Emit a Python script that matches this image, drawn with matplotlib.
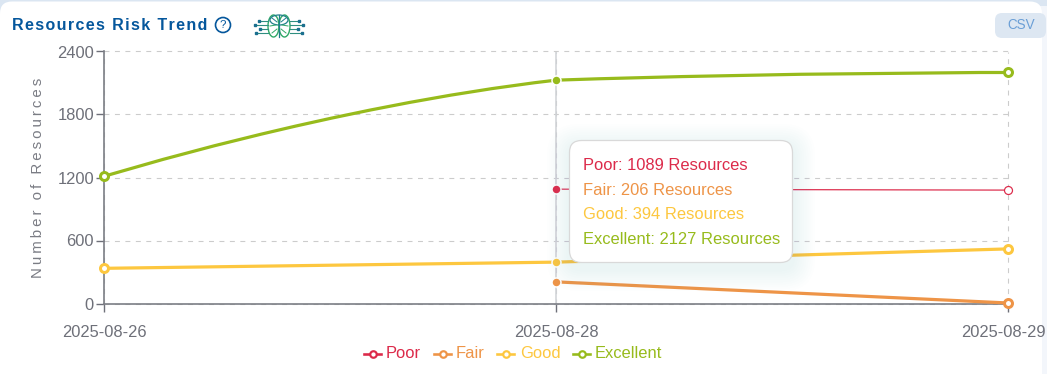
import numpy as np
import matplotlib
matplotlib.use('Agg')
import matplotlib.pyplot as plt
from matplotlib.patches import FancyBboxPatch, Circle, Ellipse, Rectangle, PathPatch
from matplotlib.path import Path
from matplotlib.transforms import ScaledTranslation

W, H = 1047, 374

dates = ['2025-08-26', '2025-08-28', '2025-08-29']
poor = [np.nan, 1089, 1080]
fair = [np.nan, 206, 5]
good = [335, 394, 520]
excellent = [1210, 2127, 2200]

names = ['Poor', 'Fair', 'Good', 'Excellent']
colors = ['#dc2a4a', '#ee9447', '#fdc73f', '#97bb1c']
widths = [1.2, 3.2, 3.2, 3.2]
yticks = [0, 600, 1200, 1800, 2400]
tooltip = ['Poor: 1089 Resources', 'Fair: 206 Resources', 'Good: 394 Resources', 'Excellent: 2127 Resources']

plt.rcParams['font.family'] = ['Liberation Sans', 'DejaVu Sans']
px = 0.72  # 1 css px in points at dpi 100
fs = 16.5 * px

fig = plt.figure(figsize=(W / 100, H / 100), dpi=100, facecolor='#dbe6f2')

# whole figure in pixels, for the card, tooltip and header
bg = fig.add_axes([0, 0, 1, 1], zorder=0)
bg.set_xlim(0, W)
bg.set_ylim(H, 0)
bg.axis('off')
bg.add_patch(Rectangle((1040, 6), 10, H, fc='#f3f6fb', ec='none'))
bg.add_patch(FancyBboxPatch((0, 1.5), 1042, H + 20, boxstyle='round,pad=0,rounding_size=12', fc='white', ec='none'))

ax = fig.add_axes([104 / W, 1 - 303.5 / H, 904 / W, 252 / H], zorder=1)
ax.patch.set_alpha(0)
ax.set_xlim(0, 2)
ax.set_ylim(0, 2400)
for s in ['top', 'right']:
    ax.spines[s].set_visible(False)
for s in ['left', 'bottom']:
    ax.spines[s].set_color('#7c7e85')
    ax.spines[s].set_linewidth(1.2)
ax.set_xticks(range(3))
ax.set_xticklabels(dates)
ax.set_yticks(yticks)
ax.tick_params(axis='both', color='#6e7079', labelcolor='#6e7079', labelsize=fs, length=8 * px, width=1.0, pad=1.5)
ax.tick_params(axis='x', pad=10)
ax.grid(True, color='#cccccc', linestyle=(0, (4.5, 5)), linewidth=px * 1.1)
for line in ax.get_xgridlines() + ax.get_ygridlines():
    line.set_clip_on(False)
ax.set_axisbelow(True)
ax.axvline(1, color='#cfd2d6', linewidth=1.1, zorder=1.5)
# last date label is pushed in a little so it stays inside
last = ax.get_xticklabels()[2]
last.set_transform(last.get_transform() + ScaledTranslation(-4.5 / 100, 0, fig.dpi_scale_trans))
ax.text(-0.073, 0.5, '\u2009'.join('Number of Resources'), rotation=90, transform=ax.transAxes,
        ha='center', va='center', color='#7a7c84', fontsize=15 * px)


def smooth_path(vals, smooth=0.5):
    # same idea as echarts smooth lines, ends have no handle
    ys = np.array(vals, dtype=float)
    lo, hi = ys.min(), ys.max()
    verts = [(0.0, ys[0])]
    codes = [Path.MOVETO]
    cp = (0.0, ys[0])
    for i in range(1, len(ys)):
        if i < len(ys) - 1:
            v = ys[i + 1] - ys[i - 1]
            before = (i - smooth, np.clip(ys[i] - v * smooth * 0.5, lo, hi))
            after = (i + smooth, np.clip(ys[i] + v * smooth * 0.5, lo, hi))
        else:
            before = (float(i), ys[i])
            after = None
        verts += [cp, before, (float(i), ys[i])]
        codes += [Path.CURVE4, Path.CURVE4, Path.CURVE4]
        cp = after
    return Path(verts, codes)


series = [poor, fair, good, excellent]
for vals, c, lw in zip(series, colors, widths):
    if vals is excellent:
        ax.add_patch(PathPatch(smooth_path(vals), fc='none', ec=c, lw=lw * px, zorder=3, clip_on=False))
    else:
        ax.plot(range(3), vals, color=c, lw=lw * px, zorder=3, clip_on=False)
    # hollow dots, the hovered one is filled with a white ring
    mew = 1.2 if vals is poor else 3.0
    ax.plot(range(3), vals, linestyle='none', marker='o', ms=8 * px, mfc='white', mec=c, mew=mew * px,
            markevery=[0, 2], zorder=4, clip_on=False)
    ax.plot([1], [vals[1]], linestyle='none', marker='o', ms=9 * px, mfc=c, mec='white', mew=1.5 * px,
            zorder=5, clip_on=False)

# tooltip, on top of the chart
top = fig.add_axes([0, 0, 1, 1], zorder=2)
top.set_xlim(0, W)
top.set_ylim(H, 0)
top.axis('off')
for i in range(10, 0, -1):
    top.add_patch(FancyBboxPatch((569 - i * 2.2, 146 - i * 2.2), 224 + i * 4.4, 123 + i * 4.4,
                                 boxstyle='round,pad=0,rounding_size=%d' % (12 + i * 2),
                                 fc='#8fb2dc', ec='none', alpha=0.012))
top.add_patch(FancyBboxPatch((569.5, 140.5), 223, 122, boxstyle='round,pad=0,rounding_size=12',
                             fc='white', ec='#d9d9d9', lw=0.9))
for i, (label, c) in enumerate(zip(tooltip, colors)):
    top.text(583, 165.5 + i * 24.5, label, color=c, fontsize=fs, va='center', ha='left')

# header
top.text(12, 25, '\u200a'.join('Resources Risk Trend'), color='#05579c', fontsize=16 * px,
         fontweight='bold', va='center', ha='left')
top.add_patch(Circle((223, 25), 7.5, fc='none', ec='#05579c', lw=1.2))
top.text(223, 25.3, '?', color='#05579c', fontsize=11.5 * px, va='center', ha='center')

# small brain logo
top.add_patch(Ellipse((273.5, 26), 11, 22, fc='white', ec='#2fa866', lw=1.0))
top.add_patch(Ellipse((284.5, 26), 11, 22, fc='white', ec='#2fa866', lw=1.0))
top.add_patch(Ellipse((279, 20), 18, 10, fc='none', ec='#1f7f8c', lw=0.9))
top.plot([279, 279], [15, 37], color='#1f7f8c', lw=0.9)
for sx in (-1, 1):
    top.plot([279 + sx * 2, 279 + sx * 7], [22, 18], color='#1f7f8c', lw=0.7)
    top.plot([279 + sx * 2, 279 + sx * 7], [29, 33], color='#2fa866', lw=0.7)
    top.plot([279 + sx * 3, 279 + sx * 9], [25, 26], color='#2fa866', lw=0.7)
    for dy, ext in ((-5, 20), (-1, 24), (3, 19), (7, 23)):
        top.plot([279 + sx * 11, 279 + sx * ext], [26 + dy, 26 + dy], color='#2f8f80', lw=0.8)
        top.plot([279 + sx * ext], [26 + dy], 's', ms=1.8, color='#1b6f8f')

# csv button
top.add_patch(FancyBboxPatch((995, 13), 51, 25, boxstyle='round,pad=0,rounding_size=7', fc='#dde7f2', ec='none'))
top.text(1021, 24.5, 'CSV', color='#6b9fd6', fontsize=13.5 * px, ha='center', va='center')

# legend
lx = [364, 434, 497, 573]
tx = [386, 456, 520, 595]
for x0, x1, name, c in zip(lx, tx, names, colors):
    top.plot([x0, x0 + 17], [354, 354], color=c, lw=2.6 * px)
    top.plot([x0 + 8.5], [354], marker='o', ms=6.5 * px, mfc='white', mec=c, mew=2.2 * px)
    top.text(x1, 353.5, name, color=c, fontsize=fs, va='center', ha='left')

fig.savefig('out.png', dpi=100, facecolor=fig.get_facecolor())
